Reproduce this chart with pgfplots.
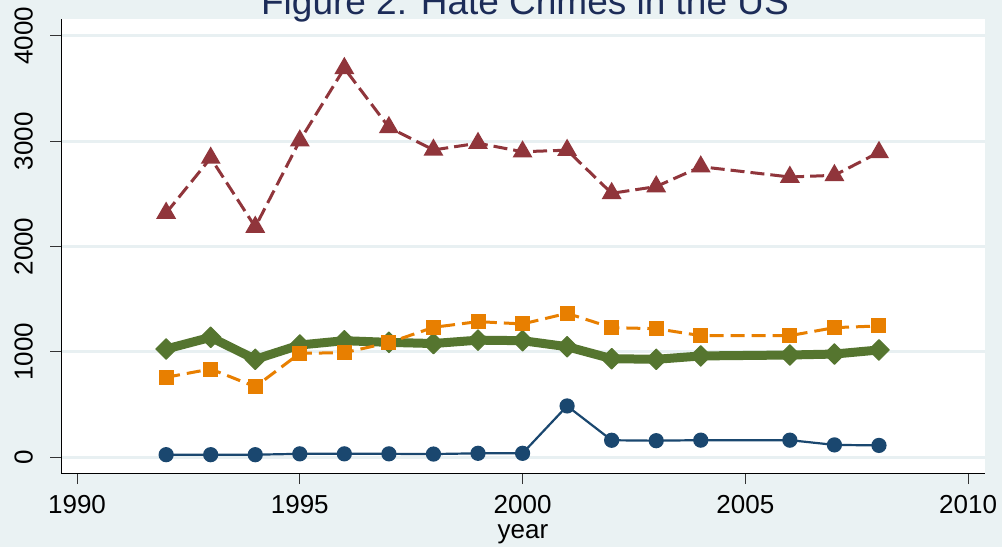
\documentclass[border=0pt]{standalone}
\usepackage{pgfplots}
\pgfplotsset{compat=1.18}
\usepackage{fontspec}
\setmainfont{Liberation Sans}
\definecolor{bg}{RGB}{234,242,243}
\definecolor{gridc}{RGB}{232,240,242}
\definecolor{snavy}{RGB}{26,71,111}
\definecolor{smaroon}{RGB}{144,53,59}
\definecolor{sgreen}{RGB}{85,117,47}
\definecolor{sorange}{RGB}{232,127,0}
\definecolor{titlec}{RGB}{28,44,88}
\begin{document}
\begin{tikzpicture}[x=1pt,y=1pt]
\fill[bg] (0,0) rectangle (1002,547);
\begin{axis}[
  at={(61pt,74pt)}, anchor=south west,
  scale only axis, width=924pt, height=454pt,
  xmin=1989.64, xmax=2010.38, ymin=-152, ymax=4161,
  axis background/.style={fill=white},
  axis x line*=bottom, axis y line*=left,
  axis line style={black, line width=1pt},
  tick align=outside, major tick length=11pt,
  tick style={black!80, line width=1pt},
  xtick={1990,1995,2000,2005,2010},
  ytick={0,1000,2000,3000,4000},
  /pgf/number format/.cd, assume math mode=true, 1000 sep={}, /pgfplots/.cd,
  ticklabel style={font=\fontsize{26}{30}\selectfont, inner sep=0pt},
  xticklabel shift=11pt,
  yticklabel shift=17pt,
  yticklabel style={rotate=90, anchor=south},
  xticklabel style={anchor=north},
  ymajorgrids, grid style={gridc, line width=3pt},
  xlabel={year},
  xlabel style={at={(axis description cs:0.5,0)}, anchor=base, yshift=-65pt, inner sep=0pt, font=\fontsize{26}{30}\selectfont},
  clip=false,
]
% navy circles
\addplot[snavy, line width=2.2pt, mark=*, mark size=6.5pt, mark options={solid}] table {
x y
1992 22
1993 22
1994 22
1995 30
1996 30
1997 30
1998 28
1999 35
2000 35
2001 485
2002 159
2003 155
2004 160
2006 160
2007 115
2008 110
};
% maroon triangles
\addplot[smaroon, line width=3pt, dash pattern=on 14pt off 6pt, mark=triangle*, mark size=8.5pt, mark options={solid}] table {
x y
1992 2318
1993 2841
1994 2185
1995 3005
1996 3693
1997 3132
1998 2917
1999 2981
2000 2900
2001 2915
2002 2505
2003 2569
2004 2758
2006 2660
2007 2676
2008 2895
};
% green diamonds (thick line)
\addplot[sgreen, line width=9pt, line join=round, mark=square*, mark size=7.3pt, mark options={solid, rotate=45, line width=1pt}] table {
x y
1992 1026
1993 1137
1994 928
1995 1064
1996 1105
1997 1089
1998 1078
1999 1110
2000 1105
2001 1048
2002 934
2003 928
2004 960
2006 969
2007 978
2008 1017
};
% orange squares
\addplot[sorange, line width=3pt, dash pattern=on 14pt off 7pt, mark=square*, mark size=7pt, mark options={solid, line width=1pt}] table {
x y
1992 757
1993 836
1994 668
1995 985
1996 991
1997 1086
1998 1232
1999 1286
2000 1264
2001 1365
2002 1229
2003 1219
2004 1153
2006 1153
2007 1229
2008 1245
};
\end{axis}
\node[anchor=base, inner sep=0pt, text=titlec, font=\fontsize{37}{42}\selectfont] at (525,532) {Figure 2: Hate Crimes in the US};
\pgfresetboundingbox
\path[use as bounding box] (0,0) rectangle (1002,547);
\end{tikzpicture}
\end{document}
